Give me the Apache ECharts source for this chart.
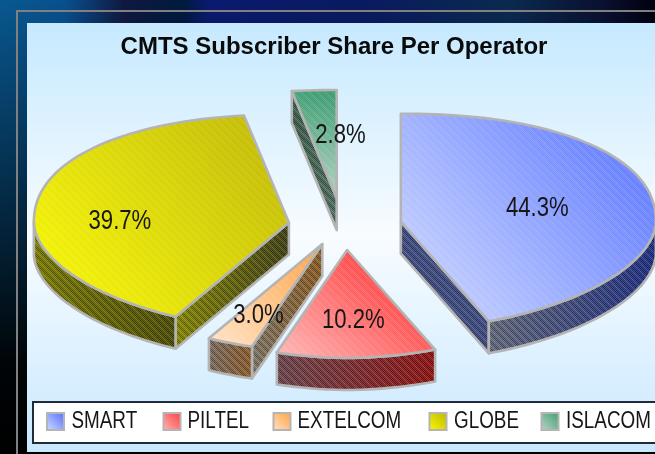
<!DOCTYPE html>
<html><head><meta charset="utf-8">
<style>html,body{margin:0;padding:0;background:#000;overflow:hidden}#c{width:655px;height:454px}</style>
<script src="https://cdn.jsdelivr.net/npm/echarts@6/dist/echarts.min.js"></script>
</head><body><div id="c"></div>
<script>
const titleText = 'CMTS Subscriber Share Per Operator';
const operators = ['SMART', 'PILTEL', 'EXTELCOM', 'GLOBE', 'ISLACOM'];
const shares = [44.3, 10.2, 3.0, 39.7, 2.8];

// appearance and layout constants
const topLight = ['#d4deff', '#ffb8b8', '#ffe4c8', '#fcfc00', '#bcd6c8'];
const topDark = ['#4f6cff', '#ff3c3c', '#ffa040', '#bcb400', '#3c9c70'];
const gradDir = [[0, 1, 1, 0], [0, 1, 0.6, 0], [0, 1, 1, 0], [0, 1, 1, 0], [0, 1, 0.4, 0]];
const arcWall = [['#60677a', '#1c2c80'], ['#6a444c', '#8e1010'], ['#7a6a5e', '#8a5a28'], ['#7a7a00', '#4a4a00'], ['#444', '#444']];
const radialWall = [['#3c4a80', '#3c4a80'], ['#444', '#444'], ['#7c7464', '#8a5a20'], ['#868600', '#3e3e12'], ['#3a5a4a', '#4e6e5e']];
const explode = [0.2225, 0.2225, 0.21, 0.2225, 0.26];
const nudgeX = [0, 0, -3, 0, -2.5];
const nudgeY = [0, 0, -3, 0, 0];
const labelRadius = [0.54, 0.64, 0.68, 0.67, 0.59];
const labelShiftX = [1, 0, 0, 0, 17];
const labelShiftY = [-3, 1, 3, 10, 1];
const legendSwatchX = [47, 163.5, 273.5, 429.5, 541.5];
const legendTextX = [71.5, 187.5, 297.5, 454, 566];
const cx = 345, cy = 226, rx = 255, ry = 108, depth = 32;
const narrowScale = 0.82;
const edge = '#b4b4b4';
const fontFace = '"Liberation Sans",Arial,sans-serif';

function pattern(fn) {
  const size = 8, cv = document.createElement('canvas');
  cv.width = cv.height = size;
  const g = cv.getContext('2d');
  for (let x = 0; x < size; x++) for (let y = 0; y < size; y++) {
    const c = fn(x, y);
    if (c) { g.fillStyle = c; g.fillRect(x, y, 1, 1); }
  }
  return { image: cv, repeat: 'repeat' };
}
const topHatch = pattern((x, y) => {
  const d = ((x - y) % 8 + 8) % 8;
  if (d < 3) return (x + y) % 2 ? 'rgba(255,255,255,0.16)' : 'rgba(255,255,255,0.05)';
  return (x + y) % 2 ? 'rgba(255,255,255,0.07)' : null;
});
const wallHatch = pattern((x, y) => {
  const d = ((x - y) % 8 + 8) % 8;
  if ((x + y) % 2) return d < 3 ? 'rgba(255,255,255,0.2)' : 'rgba(255,255,255,0.1)';
  return d < 3 ? null : 'rgba(0,0,0,0.3)';
});

const lin = (a, b, x, y, x2, y2) => new echarts.graphic.LinearGradient(x, y, x2, y2, [
  { offset: 0, color: a }, { offset: 1, color: b }]);

function sliceItem(i, params, api) {
  const total = shares.reduce((s, v) => s + v, 0);
  const before = shares.slice(0, i).reduce((s, v) => s + v, 0);
  const a0 = before / total * 360, a1 = a0 + api.value(0) / total * 360;
  const pos = (deg, k, ox, oy) => {
    const r = deg * Math.PI / 180;
    return [ox + k * rx * Math.sin(r), oy - k * ry * Math.cos(r)];
  };
  // the rim of the tilted disc is not quite elliptical: fuller at the back, flatter at the front
  const rim = (deg, ox, oy) => {
    const r = deg * Math.PI / 180, s = Math.sin(r), c = Math.cos(r);
    const n = c > 0 ? 2.2 : 1.85;
    const f = 1 / Math.pow(Math.pow(Math.abs(s), n) + Math.pow(Math.abs(c), n), 1 / n);
    return [ox + f * rx * s, oy - f * ry * c];
  };
  const mid = (a0 + a1) / 2;
  const base = pos(mid, explode[i], cx, cy);
  const apex = [base[0] + nudgeX[i], base[1] + nudgeY[i]];
  const arc = [];
  const steps = Math.max(2, Math.ceil((a1 - a0) / 2));
  for (let s = 0; s <= steps; s++) arc.push(rim(a0 + (a1 - a0) * s / steps, apex[0], apex[1]));
  const down = p => [p[0], p[1] + depth];
  const children = [];
  const poly = (pts, style) => children.push({ type: 'polygon', shape: { points: pts }, style });
  const outline = pts => poly(pts, { fill: null, stroke: edge, lineWidth: 2.6, lineJoin: 'round' });
  const face = (pts, fill) => {
    poly(pts, { fill });
    poly(pts, { fill: wallHatch });
    outline(pts);
  };
  const wallOf = (p, q, cols) => face([p, q, down(q), down(p)], lin(cols[0], cols[1], 0, 0, 1, 0));
  if (arc[0][0] < apex[0]) wallOf(apex, arc[0], radialWall[i]);
  const last = arc[arc.length - 1];
  if (apex[0] < last[0]) wallOf(last, apex, radialWall[i]);
  const front = [];
  for (const p of arc) {
    if (front.length === 0 || p[0] < front[front.length - 1][0]) front.push(p);
    else if (front.length === 1) front[0] = p;
  }
  if (front.length > 1) face(front.concat(front.slice().reverse().map(down)), lin(arcWall[i][0], arcWall[i][1], 0, 0, 1, 0));
  const topPts = [apex].concat(arc);
  const d = gradDir[i];
  poly(topPts, { fill: lin(topLight[i], topDark[i], d[0], d[1], d[2], d[3]) });
  poly(topPts, { fill: topHatch });
  outline(topPts);
  const lp = pos(mid, labelRadius[i], apex[0], apex[1]);
  children.push({ type: 'text', z2: 50, x: lp[0] + labelShiftX[i], y: lp[1] + labelShiftY[i], scaleX: narrowScale, style: {
    text: api.value(0).toFixed(1) + '%', x: 0, y: 0,
    align: 'center', verticalAlign: 'middle', font: '27px ' + fontFace, fill: '#161616' } });
  return { type: 'group', children };
}

const legendElements = [
  { type: 'rect', z: 5, shape: { x: 33, y: 402, width: 640, height: 41 }, style: { fill: '#fff', stroke: '#1c2c3a', lineWidth: 2 } }
];
operators.forEach((n, i) => {
  legendElements.push({ type: 'rect', z: 6, shape: { x: legendSwatchX[i], y: 413, width: 17, height: 17 },
    style: { fill: lin(topLight[i], topDark[i], 0, 1, 1, 0), stroke: edge, lineWidth: 2 } });
  legendElements.push({ type: 'text', z: 6, x: legendTextX[i], y: 422, scaleX: narrowScale,
    style: { text: n, x: 0, y: 0, align: 'left', verticalAlign: 'middle', font: '23px ' + fontFace, fill: '#161616' } });
});

const chart = echarts.init(document.getElementById('c'), null, { renderer: 'canvas' });
chart.setOption({
  animation: false,
  backgroundColor: '#000',
  title: { text: titleText, left: 329, textAlign: 'center', top: 30,
    textStyle: { fontFamily: fontFace, fontWeight: 'bold', fontSize: 24, color: '#0a0a0a' } },
  graphic: { elements: [
    { type: 'rect', z: -10, shape: { x: 0, y: 0, width: 655, height: 454 }, style: { fill: new echarts.graphic.LinearGradient(0, 0, 1, 0, [
      { offset: 0, color: '#08588f' }, { offset: 0.1, color: '#08508f' }, { offset: 0.19, color: '#101840' }, { offset: 0.28, color: '#001a40' },
      { offset: 0.32, color: '#0a1a70' }, { offset: 0.55, color: '#0a1a60' }, { offset: 0.78, color: '#0a2a50' }, { offset: 0.92, color: '#0a1030' }, { offset: 1, color: '#000010' }]) } },
    { type: 'rect', z: -9, shape: { x: 0, y: 0, width: 655, height: 454 }, style: { fill: new echarts.graphic.LinearGradient(0, 0, 0, 1, [
      { offset: 0, color: 'rgba(0,0,0,0)' }, { offset: 0.8, color: 'rgba(0,0,0,0.95)' }, { offset: 1, color: '#000' }]) } },
    { type: 'polyline', z: -8, shape: { points: [[17, 454], [17, 11], [655, 11]] }, style: { stroke: '#808080', lineWidth: 2, fill: null } },
    { type: 'rect', z: -7, shape: { x: 27, y: 23, width: 628, height: 429 }, style: { fill: new echarts.graphic.LinearGradient(0, 0, 0, 1, [
      { offset: 0, color: '#c6e9ff' }, { offset: 0.5, color: '#f8fcff' }, { offset: 1, color: '#c8e8ff' }]) } }
  ].concat(legendElements) },
  series: operators.map((n, i) => ({
    type: 'custom', name: n, coordinateSystem: 'none', silent: true,
    data: [[shares[i]]],
    renderItem: (params, api) => sliceItem(i, params, api)
  }))
});
</script></body></html>
